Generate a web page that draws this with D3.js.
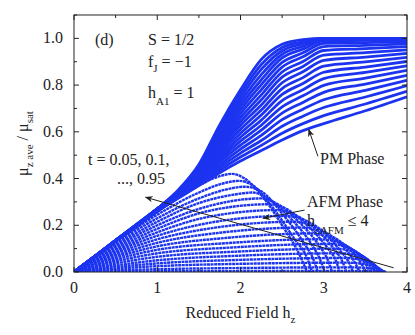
<!DOCTYPE html>
<html><head><meta charset="utf-8">
<script src="https://cdn.jsdelivr.net/npm/d3@7"></script>
<style>
body{margin:0;background:#fff}
svg{display:block}
</style>
</head><body>
<script>
// ---------- data ----------
const tValues = [0.05,0.10,0.15,0.20,0.25,0.30,0.35,0.40,0.45,0.50,0.55,0.60,0.65,0.70,0.75,0.80,0.85,0.90,0.95];
// PM phase: reduced field grid and mu_z/mu_sat for each t
const pmField = [0,0.5,1.0,1.25,1.5,1.75,2.0,2.25,2.5,2.75,3.0,3.5,4.0];
const pmMoment = [
  [0,.135,.27,.350,.460,.630,.780,.910,.975,.995,1.0,1.0,1.0],
  [0,.135,.27,.348,.455,.619,.763,.888,.961,.986,1.0,1.0,1.0],
  [0,.135,.27,.346,.450,.607,.746,.867,.947,.977,.9985,.999,.999],
  [0,.135,.27,.344,.445,.596,.729,.845,.932,.966,.995,.996,.997],
  [0,.135,.27,.342,.440,.584,.712,.823,.916,.954,.989,.991,.993],
  [0,.135,.27,.340,.435,.573,.695,.802,.897,.938,.979,.982,.986],
  [0,.135,.27,.338,.430,.562,.678,.780,.877,.921,.965,.970,.976],
  [0,.135,.27,.336,.425,.550,.661,.758,.856,.901,.948,.956,.965],
  [0,.135,.27,.334,.420,.539,.644,.737,.834,.880,.928,.939,.951],
  [0,.133,.265,.333,.415,.528,.628,.715,.810,.857,.906,.920,.936],
  [0,.133,.265,.331,.410,.516,.611,.693,.785,.832,.881,.899,.919],
  [0,.133,.265,.329,.405,.505,.594,.672,.760,.807,.855,.877,.901],
  [0,.133,.265,.327,.400,.493,.577,.650,.734,.780,.828,.854,.882],
  [0,.133,.265,.325,.395,.482,.560,.628,.707,.754,.799,.830,.863],
  [0,.132,.26,.323,.390,.471,.543,.607,.680,.726,.769,.804,.842],
  [0,.132,.26,.321,.385,.459,.526,.585,.652,.697,.737,.777,.820],
  [0,.132,.26,.319,.380,.448,.509,.563,.624,.667,.704,.749,.798],
  [0,.132,.26,.317,.375,.436,.492,.542,.594,.635,.669,.719,.773],
  [0,.132,.26,.315,.370,.425,.475,.520,.565,.605,.635,.690,.750]
];
// AFM phase branches: [h, mu_z/mu_sat] for each t
const afmCurves = [
  [[0,0],[1.0,.003],[2.0,.004],[3.3,.005],[3.5,.005],[3.6,.004],[3.7,.002],[3.75,0]],
  [[0,0],[1.0,.012],[2.0,.017],[3.3,.02],[3.5,.018],[3.6,.013],[3.68,.007],[3.72,.003],[3.74,0]],
  [[0,0],[1.0,.025],[2.0,.035],[3.3,.04],[3.45,.036],[3.58,.027],[3.66,.015],[3.70,.006],[3.73,0]],
  [[0,0],[1.0,.037],[2.0,.052],[3.25,.06],[3.42,.054],[3.55,.04],[3.64,.022],[3.69,.01],[3.72,0]],
  [[0,0],[1.0,.05],[2.0,.07],[3.2,.08],[3.38,.072],[3.52,.052],[3.62,.028],[3.66,.012],[3.70,0]],
  [[0,0],[1.0,.065],[2.0,.088],[3.15,.10],[3.32,.09],[3.48,.065],[3.59,.035],[3.64,.015],[3.68,0]],
  [[0,0],[1.0,.08],[1.9,.105],[3.05,.12],[3.25,.11],[3.42,.08],[3.55,.045],[3.61,.018],[3.65,0]],
  [[0,0],[1.0,.095],[1.9,.125],[2.95,.14],[3.15,.13],[3.35,.095],[3.5,.05],[3.57,.02],[3.61,0]],
  [[0,0],[1.0,.11],[1.8,.145],[2.85,.165],[3.05,.15],[3.28,.11],[3.45,.06],[3.52,.025],[3.56,0]],
  [[0,0],[1.0,.125],[1.8,.17],[2.75,.19],[2.95,.175],[3.2,.13],[3.38,.07],[3.46,.03],[3.50,0]],
  [[0,0],[1.0,.14],[1.7,.19],[2.65,.215],[2.85,.20],[3.1,.15],[3.3,.08],[3.39,.03],[3.43,0]],
  [[0,0],[1.0,.155],[1.7,.215],[2.55,.24],[2.75,.225],[3.0,.17],[3.2,.09],[3.31,.035],[3.35,0]],
  [[0,0],[1.0,.17],[1.6,.235],[2.45,.265],[2.65,.245],[2.9,.185],[3.13,.095],[3.23,.04],[3.27,0]],
  [[0,0],[1.0,.185],[1.6,.26],[2.35,.29],[2.55,.27],[2.8,.20],[3.05,.10],[3.15,.045],[3.19,0]],
  [[0,0],[1.0,.20],[1.5,.27],[2.25,.315],[2.45,.29],[2.7,.215],[2.95,.11],[3.05,.05],[3.10,0]],
  [[0,0],[1.0,.215],[1.5,.295],[1.9,.33],[2.15,.34],[2.35,.31],[2.6,.23],[2.85,.12],[2.96,.05],[3.01,0]],
  [[0,0],[1.0,.23],[1.5,.315],[1.85,.355],[2.05,.365],[2.25,.345],[2.5,.25],[2.75,.13],[2.88,.05],[2.93,0]],
  [[0,0],[1.0,.245],[1.5,.34],[1.8,.38],[1.98,.39],[2.15,.37],[2.4,.27],[2.65,.14],[2.8,.06],[2.86,0]],
  [[0,0],[1.0,.26],[1.5,.37],[1.75,.41],[1.9,.42],[2.05,.40],[2.25,.33],[2.5,.20],[2.7,.08],[2.8,0]]
];
const xTickValues = [0,1,2,3,4];
const yTickValues = [0,0.2,0.4,0.6,0.8,1.0];
const yMinorValues = [0.1,0.3,0.5,0.7,0.9,1.1];
const xMinorValues = [0.5,1.5,2.5,3.5];

// ---------- layout ----------
const W = 415, H = 335;
const L = 74, R = 407, T = 15, B = 272;
const blue = "#1c34f0";
const ink = "#222";
const serif = "Liberation Serif, DejaVu Serif, Noto Serif, serif";

const x = d3.scaleLinear().domain([0,4]).range([L,R]);
const y = d3.scaleLinear().domain([0,1.1]).range([B,T]);

const svg = d3.select("body").append("svg").attr("width",W).attr("height",H);

const defs = svg.append("defs");
defs.append("clipPath").attr("id","clip").append("rect")
  .attr("x",L).attr("y",T).attr("width",R-L).attr("height",B-T);
defs.append("marker").attr("id","arr").attr("viewBox","0 0 10 10")
  .attr("refX",9).attr("refY",5).attr("markerWidth",8).attr("markerHeight",8)
  .attr("markerUnits","userSpaceOnUse").attr("orient","auto")
  .append("path").attr("d","M0,1 L10,5 L0,9 L3,5 Z").attr("fill",ink);

const plot = svg.append("g").attr("clip-path","url(#clip)");

const line = d3.line().x(d=>x(d[0])).y(d=>y(d[1])).curve(d3.curveMonotoneX);

// AFM branches
plot.append("g").selectAll("path").data(afmCurves).join("path")
  .attr("d",line).attr("fill","none").attr("stroke",blue)
  .attr("stroke-width",2.4).attr("stroke-dasharray","3 0.6");

// PM branches
plot.append("g").selectAll("path").data(pmMoment).join("path")
  .attr("d",row=>line(row.map((m,i)=>[pmField[i],m])))
  .attr("fill","none").attr("stroke",blue).attr("stroke-width",2.8);

// ---------- axes ----------
const axes = svg.append("g").attr("fill","none").attr("stroke",ink).attr("stroke-width",1);
axes.append("rect").attr("x",L).attr("y",T).attr("width",R-L).attr("height",B-T);

function ticks(g, vals, len, scale, orient){
  g.selectAll(null).data(vals).join("line")
    .each(function(d){
      const s = d3.select(this);
      if(orient==="bottom"){ s.attr("x1",scale(d)).attr("x2",scale(d)).attr("y1",B).attr("y2",B-len); }
      if(orient==="top"){ s.attr("x1",scale(d)).attr("x2",scale(d)).attr("y1",T).attr("y2",T+len); }
      if(orient==="left"){ s.attr("y1",scale(d)).attr("y2",scale(d)).attr("x1",L).attr("x2",L+len); }
      if(orient==="right"){ s.attr("y1",scale(d)).attr("y2",scale(d)).attr("x1",R).attr("x2",R-len); }
    });
}
ticks(axes, xTickValues, 5, x, "bottom");
ticks(axes, xMinorValues, 3, x, "bottom");
ticks(axes, xTickValues, 5, x, "top");
ticks(axes, xMinorValues, 3, x, "top");
ticks(axes, yTickValues, 5, y, "left");
ticks(axes, yMinorValues, 3, y, "left");
ticks(axes, yTickValues, 5, y, "right");
ticks(axes, yMinorValues, 3, y, "right");

const txt = svg.append("g").attr("fill",ink).attr("font-family",serif).attr("font-size",16);
txt.selectAll(null).data(xTickValues).join("text")
  .attr("x",d=>x(d)).attr("y",B+21).attr("text-anchor","middle").text(d=>d);
txt.selectAll(null).data(yTickValues).join("text")
  .attr("x",L-11).attr("y",d=>y(d)+5).attr("text-anchor","end").text(d=>d.toFixed(1));

// x label
const xl = txt.append("text").attr("x",x(2)).attr("y",318).attr("text-anchor","middle");
xl.append("tspan").text("Reduced Field h");
xl.append("tspan").attr("dy",5).attr("font-size",11).text("z");

// y label
const yl = txt.append("text").attr("transform",`translate(28,${(T+B)/2}) rotate(-90)`)
  .attr("text-anchor","middle");
yl.append("tspan").text("μ");
yl.append("tspan").attr("dy",5).attr("font-size",11).text("z ave");
yl.append("tspan").attr("dy",-5).text(" / μ");
yl.append("tspan").attr("dy",5).attr("font-size",11).text("sat");

// annotations
txt.append("text").attr("x",95).attr("y",45).text("(d)");
txt.append("text").attr("x",148).attr("y",45).text("S = 1/2");
const fj = txt.append("text").attr("x",148).attr("y",67);
fj.append("tspan").text("f");
fj.append("tspan").attr("dy",5).attr("font-size",11).text("J");
fj.append("tspan").attr("dy",-5).text(" = −1");
const ha = txt.append("text").attr("x",148).attr("y",98);
ha.append("tspan").text("h");
ha.append("tspan").attr("dy",7).attr("font-size",11).text("A1");
ha.append("tspan").attr("dy",-7).text(" = 1");

txt.append("text").attr("x",88).attr("y",165).text("t = 0.05, 0.1,");
txt.append("text").attr("x",117).attr("y",184).text("..., 0.95");

txt.append("text").attr("x",320).attr("y",164).text("PM Phase");
txt.append("text").attr("x",307).attr("y",207).text("AFM Phase");
const hc = txt.append("text").attr("x",307).attr("y",226);
hc.append("tspan").text("h");
hc.append("tspan").attr("dy",8).attr("font-size",11).text("cAFM");
hc.append("tspan").attr("dy",-8).text(" ≤ 4");

const arrows = svg.append("g").attr("stroke",ink).attr("stroke-width",1).attr("fill","none");
arrows.append("line").attr("x1",x(3.84)).attr("y1",y(0.018)).attr("x2",x(0.86)).attr("y2",y(0.32))
  .attr("marker-end","url(#arr)");
arrows.append("line").attr("x1",x(2.93)).attr("y1",y(0.495)).attr("x2",x(2.82)).attr("y2",y(0.61))
  .attr("marker-end","url(#arr)");
arrows.append("line").attr("x1",x(2.77)).attr("y1",y(0.265)).attr("x2",x(2.27)).attr("y2",y(0.23))
  .attr("marker-end","url(#arr)");
</script>
</body></html>
